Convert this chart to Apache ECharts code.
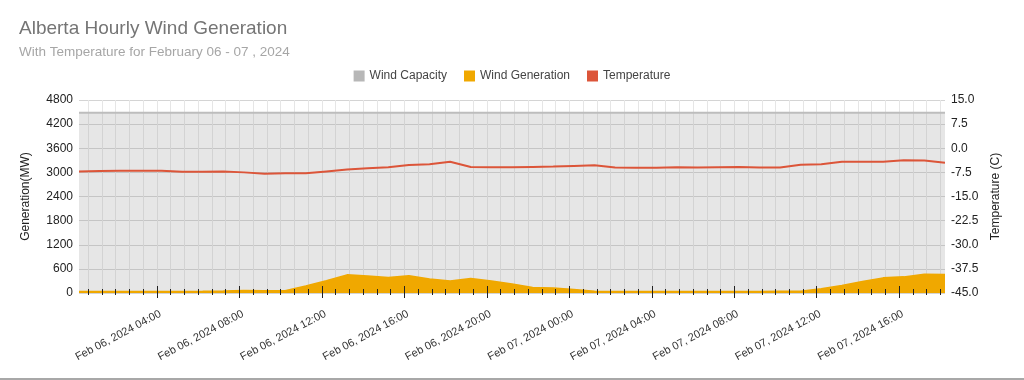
<!DOCTYPE html>
<html><head><meta charset="utf-8">
<script src="https://cdn.jsdelivr.net/npm/echarts@6/dist/echarts.min.js"></script>
<style>html,body{margin:0;padding:0;background:#fff}
#c{width:1024px;height:378px;border-bottom:2px solid #a8a8a8}</style>
</head><body><div id="c"></div>
<script>
// Hours after Feb 06 2024 00:00 of first reading (00:13), one reading per hour
const firstHour = 0.22;
const lastHour = 42.22;
const windCapacityMW = 4480;
const windGeneration = [30,30,30,30,30,30,35,45,57,50,50,170,300,445,415,380,425,340,290,356,290,215,132,117,80,40,30,30,30,30,30,30,30,30,35,40,100,182,280,370,395,460,455];
const temperature = [-7.2,-7.1,-7.0,-7.0,-7.0,-7.3,-7.3,-7.2,-7.5,-7.9,-7.8,-7.8,-7.2,-6.6,-6.2,-5.9,-5.2,-5.0,-4.2,-5.8,-5.9,-5.9,-5.8,-5.7,-5.5,-5.3,-6.0,-6.1,-6.1,-5.9,-6.0,-5.9,-5.8,-6.0,-6.0,-5.1,-5.0,-4.2,-4.2,-4.2,-3.7,-3.8,-4.5];
const majorTickHours = [4,8,12,16,20,24,28,32,36,40];
const majorTickLabels = ['Feb 06, 2024 04:00','Feb 06, 2024 08:00','Feb 06, 2024 12:00','Feb 06, 2024 16:00','Feb 06, 2024 20:00','Feb 07, 2024 00:00','Feb 07, 2024 04:00','Feb 07, 2024 08:00','Feb 07, 2024 12:00','Feb 07, 2024 16:00'];
const minorTickHours = [];
for (let k = 1; k * 2 / 3 <= lastHour; k++) minorTickHours.push(+(k * 2 / 3).toFixed(4));

const FONT = 'Arial, "Liberation Sans", sans-serif';
const genData = windGeneration.map((v, i) => [firstHour + i, v]);
const capData = windGeneration.map((v, i) => [firstHour + i, windCapacityMW]);
const tempData = temperature.map((v, i) => [firstHour + i, v]);

function xAxisBase(extra) {
  return Object.assign({
    type: 'value', min: firstHour, max: lastHour, position: 'bottom',
    axisLine: { show: false, onZero: false }, axisLabel: { show: false },
    splitLine: { show: false }, axisTick: { show: false }
  }, extra);
}

const chart = echarts.init(document.getElementById('c'), null, { renderer: 'canvas' });
chart.setOption({
  animation: false,
  textStyle: { fontFamily: FONT },
  title: {
    text: 'Alberta Hourly Wind Generation',
    subtext: 'With Temperature for February 06 - 07 , 2024',
    left: 14, top: 14, itemGap: 7,
    textStyle: { fontFamily: FONT, fontSize: 19, fontWeight: 'normal', color: '#757575' },
    subtextStyle: { fontFamily: FONT, fontSize: 13.5, color: '#a6a6a6' }
  },
  legend: {
    top: 65, left: 'center', itemWidth: 11, itemHeight: 11, itemGap: 17, icon: 'rect',
    textStyle: { fontFamily: FONT, fontSize: 12, color: '#444' },
    data: ['Wind Capacity', 'Wind Generation', 'Temperature']
  },
  grid: { left: 79, right: 79, top: 100, bottom: 85, outerBoundsMode: 'none', containLabel: false },
  xAxis: [
    xAxisBase({
      axisLabel: {
        show: true, rotate: 28, fontSize: 11, color: '#333', margin: 22, fontFamily: FONT,
        padding: [0, -4, 0, 0],
        customValues: majorTickHours,
        formatter: v => majorTickLabels[majorTickHours.indexOf(Math.round(v))] || ''
      },
      axisTick: { show: true, customValues: majorTickHours, length: 5, lineStyle: { color: '#222' } },
      splitLine: { show: true, lineStyle: { color: '#cfcfcf', width: 1 } }
    }),
    xAxisBase({
      z: 10,
      axisTick: { show: true, inside: true, customValues: majorTickHours, length: 7, lineStyle: { color: '#222' } }
    }),
    xAxisBase({
      splitLine: { show: true, lineStyle: { color: '#e6e6e6', width: 1 } },
      axisTick: { show: false, customValues: minorTickHours }
    }),
    xAxisBase({
      z: 10,
      axisTick: { show: true, inside: true, customValues: minorTickHours, length: 4, lineStyle: { color: '#222' } }
    }),
    xAxisBase({
      axisTick: { show: true, customValues: minorTickHours, length: 2, lineStyle: { color: '#222' } }
    })
  ],
  yAxis: [
    {
      type: 'value', min: 0, max: 4800, interval: 600,
      name: 'Generation(MW)', nameLocation: 'middle', nameGap: 47, nameRotate: 90,
      nameTextStyle: { fontFamily: FONT, fontSize: 12, color: '#222' },
      axisLine: { show: false, onZero: false }, axisTick: { show: false },
      axisLabel: { fontFamily: FONT, fontSize: 12, color: '#222', margin: 6, formatter: v => String(v) },
      splitLine: { show: true, lineStyle: { color: '#d4d4d4', width: 1 } }
    },
    {
      type: 'value', min: -45, max: 15, interval: 7.5,
      name: 'Temperature (C)', nameLocation: 'middle', nameGap: 45, nameRotate: 90,
      nameTextStyle: { fontFamily: FONT, fontSize: 12, color: '#222' },
      axisLine: { show: false, onZero: false }, axisTick: { show: false },
      axisLabel: { fontFamily: FONT, fontSize: 12, color: '#222', margin: 6, formatter: v => v.toFixed(1) },
      splitLine: { show: false }
    }
  ],
  series: [
    {
      name: 'Wind Capacity', type: 'line', xAxisIndex: 0, yAxisIndex: 0, data: capData,
      showSymbol: false, symbol: 'none',
      itemStyle: { color: '#b7b7b7' },
      lineStyle: { color: '#bdbdbd', width: 2 },
      areaStyle: { color: 'rgba(150,150,150,0.24)', opacity: 1 }, z: 1
    },
    {
      name: 'Wind Generation', type: 'line', xAxisIndex: 0, yAxisIndex: 0, data: genData,
      showSymbol: false, symbol: 'none',
      itemStyle: { color: '#f0a800' },
      lineStyle: { color: '#f0a800', width: 2 },
      areaStyle: { color: '#f0a800', opacity: 1 }, z: 2
    },
    {
      name: 'Temperature', type: 'line', xAxisIndex: 0, yAxisIndex: 1, data: tempData,
      showSymbol: false, symbol: 'none',
      itemStyle: { color: '#dc5539' },
      lineStyle: { color: '#dc5539', width: 2 }, z: 3
    }
  ]
});
</script></body></html>
